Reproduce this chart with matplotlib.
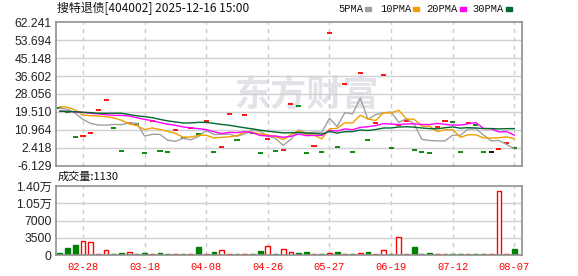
import numpy as np
import matplotlib
matplotlib.use("Agg")
import matplotlib.pyplot as plt
from matplotlib.patches import Rectangle

plt.rcParams["font.family"] = ["Noto Sans CJK SC", "DejaVu Sans"]

# ---- data (one entry per trading day, 60 days) ----
title = "搜特退债[404002] 2025-12-16 15:00"
date_labels = ["02-28", "03-18", "04-08", "04-26", "05-27", "06-19", "07-12", "08-07"]
date_pos = [3, 11, 19, 27, 35, 43, 51, 59]

close = [21.5, 19.5, 7.5, 8.1, 9.4, 20.3, 25.2, 11.7, 1.0, 14.4,
         13.6, 0.2, 15.3, 1.1, 0.5, 10.8, 7.3, 12.0, 8.9, 15.2,
         0.37, 2.9, 18.4, 6.2, 18.1, 9.4, 0.03, 6.6, 1.0, 1.46,
         23.3, 22.2, -0.1, 3.2, 0.37, 56.9, 2.7, 32.8, 0.37, 37.9,
         6.2, 14.1, 36.9, 2.27, 13.3, 15.1, 1.46, 0.37, 0.0, 12.2,
         15.2, 14.7, 0.37, 14.3, 13.4, 0.37, 0.37, 1.8, 4.6, 2.6]
# u = up (red), d = down (green), f = flat (black)
trend = ["d", "d", "d", "u", "u", "u", "u", "d", "d", "u",
         "d", "d", "u", "d", "d", "u", "d", "u", "d", "u",
         "d", "u", "u", "d", "u", "d", "d", "u", "d", "u",
         "u", "d", "d", "u", "d", "u", "d", "u", "d", "u",
         "d", "u", "u", "d", "u", "u", "d", "d", "d", "u",
         "u", "d", "d", "u", "d", "d", "f", "u", "u", "d"]

ma5 = [21.3, 20.8, 18.9, 16.0, 14.1, 13.3, 13.3, 13.6, 13.5, 14.4,
       14.1, 8.1, 8.9, 8.9, 6.1, 5.6, 7.0, 6.3, 7.9, 10.8,
       8.8, 8.9, 9.0, 8.0, 9.1, 11.0, 10.4, 8.1, 7.0, 3.7,
       6.5, 10.9, 9.6, 10.0, 9.8, 16.5, 12.6, 19.2, 18.6, 26.1,
       16.0, 18.3, 19.1, 19.5, 14.6, 16.3, 13.8, 6.5, 6.0, 5.8,
       5.8, 8.5, 8.5, 11.4, 11.6, 8.6, 5.8, 6.0, 4.1, 1.95]
ma10 = [22.0, 21.8, 20.4, 18.1, 17.8, 17.6, 17.3, 16.7, 15.6, 13.86,
        13.07, 11.14, 11.92, 11.22, 10.33, 9.38, 7.59, 7.62, 8.41, 8.49,
        7.17, 7.44, 7.75, 8.26, 10.02, 9.88, 9.15, 8.61, 7.82, 6.45,
        8.74, 10.67, 8.82, 8.52, 6.75, 11.50, 11.76, 14.38, 14.32, 17.96,
        16.25, 15.44, 19.14, 19.05, 20.34, 16.16, 16.04, 12.80, 12.76, 10.19,
        11.09, 11.15, 7.50, 8.70, 8.71, 7.24, 7.13, 7.27, 7.73, 6.77]
ma20 = [19.9, 19.8, 19.6, 19.3, 18.9, 18.6, 18.2, 17.9, 17.9, 17.6,
        16.8, 16.0, 15.4, 14.5, 13.7, 13.2, 12.4, 12.0, 11.6, 11.18,
        10.12, 9.29, 9.83, 9.74, 10.17, 9.63, 8.37, 8.12, 8.12, 7.47,
        7.95, 9.05, 8.28, 8.39, 8.38, 10.69, 10.46, 11.50, 11.07, 12.21,
        12.50, 13.06, 13.98, 13.79, 13.55, 13.83, 13.90, 13.59, 13.54, 14.08,
        13.67, 13.30, 13.32, 13.88, 14.53, 11.70, 11.58, 10.03, 10.25, 8.48]
ma30 = [19.9, 19.8, 19.6, 19.4, 19.2, 18.9, 18.9, 18.9, 18.9, 18.3,
        17.7, 17.3, 16.8, 16.0, 15.3, 14.8, 14.3, 14.3, 14.6, 14.6,
        14.1, 13.6, 13.2, 12.6, 12.0, 11.5, 10.9, 10.4, 10.0, 9.60,
        9.66, 9.75, 9.50, 9.33, 9.03, 10.25, 9.50, 10.20, 10.18, 10.97,
        10.72, 11.18, 11.90, 11.94, 12.37, 12.51, 12.32, 11.93, 11.63, 11.53,
        12.03, 12.42, 11.82, 12.09, 11.93, 11.63, 11.64, 11.48, 11.60, 11.64]

volume = [470, 1420, 2030, 2840, 2700, 150, 950, 200, 400, 600,
          270, 400, 150, 400, 250, 150, 200, 150, 1620, 150,
          600, 1000, 150, 200, 150, 200, 800, 1830, 200, 1200,
          600, 400, 600, 150, 200, 400, 600, 150, 200, 400,
          600, 150, 1000, 200, 3600, 150, 1620, 250, 400, 150,
          150, 200, 200, 150, 200, 200, 150, 12900, 150, 1130]

price_ticks = [-6.129, 2.418, 10.964, 19.510, 28.056, 36.602, 45.148, 53.694, 62.241]
vol_ticks = [0, 3500, 7000, 10500, 14000]
vol_tick_labels = ["0", "3500", "7000", "1.05万", "1.40万"]

ma_names = ["5PMA", "10PMA", "20PMA", "30PMA"]
ma_colors = ["#a0a0a0", "#f0a000", "#ff00ff", "#006a2e"]
UP, DOWN, FLAT = "#ff0000", "#008000", "#000000"

W, H = 578, 276
x = np.arange(len(close))
cmap = {"u": UP, "d": DOWN, "f": FLAT}
ccol = [cmap[t] for t in trend]

fig = plt.figure(figsize=(W / 100, H / 100), dpi=100)
ax1 = fig.add_axes([56 / W, 1 - 166 / H, 466 / W, 144 / H])
ax2 = fig.add_axes([56 / W, 1 - 255 / H, 466 / W, 69 / H])

num_font = ["Liberation Sans", "Noto Sans CJK SC"]


def frame(ax):
    for s in ax.spines.values():
        s.set_color("#909090")
        s.set_linewidth(1.2)
    ax.tick_params(length=0, pad=3, labelsize=8.7, labelcolor="#222222")
    for d in date_pos:
        ax.axvline(d, color="#cccccc", lw=1, ls=(0, (3, 3)), zorder=1)
    ax.set_xlim(-0.5, 60)


# ---- price panel ----
frame(ax1)
ax1.set_ylim(price_ticks[0], price_ticks[-1])
ax1.set_yticks(price_ticks)
ax1.set_yticklabels([f"{t:.3f}" for t in price_ticks], family=num_font)
for t in price_ticks[1:-1]:
    ax1.axhline(t, color="#d0d0d0", lw=1, zorder=1)
ax1.set_xticks([])
ax1.text(0.539, 0.49, "东方财富", transform=ax1.transAxes, fontsize=26,
         fontweight="bold", color="#e2e2e8", ha="center", va="center", zorder=0.5)

ax1.hlines(close, x - 0.33, x + 0.33, colors=ccol, lw=1.3, zorder=2)
for vals, c in zip([ma5, ma10, ma20, ma30], ma_colors):
    ax1.plot(x, vals, color=c, lw=1.0, zorder=3)

# ---- volume panel ----
frame(ax2)
ax2.set_ylim(0, 14000)
ax2.set_yticks(vol_ticks)
ax2.set_yticklabels(vol_tick_labels, family=num_font)
for t in vol_ticks[1:-1]:
    ax2.axhline(t, color="#d0d0d0", lw=1, zorder=1)
vcol = [DOWN if t == "d" else UP for t in trend]
vface = [DOWN if t == "d" else "white" for t in trend]
ax2.bar(x, volume, width=0.62, color=vface, edgecolor=vcol, lw=1, zorder=2)
ax2.set_xticks(date_pos)
ax2.set_xticklabels(date_labels, family="Liberation Mono", fontsize=7.5, color="#ff0000")
ax2.tick_params(axis="x", pad=5)

# ---- header texts ----
fig.text(57 / W, 1 - 9 / H, title, fontsize=8.6, color="#111111", ha="left", va="center")
fig.text(58 / W, 1 - 177 / H, f"成交量:{volume[-1]}", fontsize=8, color="#111111",
         ha="left", va="center")

leg_x = [338, 380, 426, 472]
box_x = [365, 413, 460, 506]
for name, c, tx, bx in zip(ma_names, ma_colors, leg_x, box_x):
    fig.text(tx / W, 1 - 9 / H, name, fontsize=7.5, family="Liberation Mono",
             color="#111111", ha="left", va="center")
    fig.patches.append(Rectangle((bx / W, 1 - 11 / H), 6 / W, 4 / H, color=c,
                                 transform=fig.transFigure, figure=fig))

fig.savefig("out.png", dpi=100)
